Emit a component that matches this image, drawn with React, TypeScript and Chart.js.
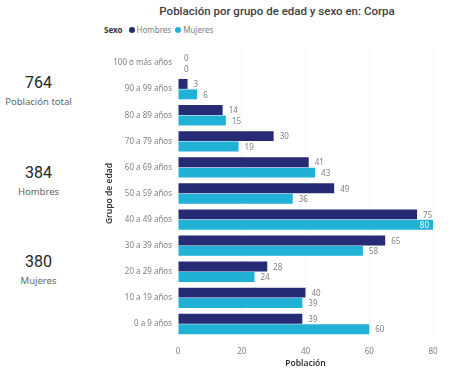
import React, { useEffect, useRef } from "react";
import { Chart, registerables } from "chart.js";

Chart.register(...registerables);

const categories = [
  "100 o más años",
  "90 a 99 años",
  "80 a 89 años",
  "70 a 79 años",
  "60 a 69 años",
  "50 a 59 años",
  "40 a 49 años",
  "30 a 39 años",
  "20 a 29 años",
  "10 a 19 años",
  "0 a 9 años",
];
const hombres = [0, 3, 14, 30, 41, 49, 75, 65, 28, 40, 39];
const mujeres = [0, 6, 15, 19, 43, 36, 80, 58, 24, 39, 60];
const xTicks = [0, 20, 40, 60, 80];
const kpis = [
  { value: "764", label: "Población total" },
  { value: "384", label: "Hombres" },
  { value: "380", label: "Mujeres" },
];

const DARK = "#252B74";
const LIGHT = "#22B1D6";
const FONT = "'Noto Sans', 'Open Sans', sans-serif";
const HEAD = "Roboto, 'Noto Sans', sans-serif";

const labelPlugin = {
  id: "valueLabels",
  afterDatasetsDraw(chart: any) {
    const ctx = chart.ctx;
    const area = chart.chartArea;
    ctx.save();
    ctx.font = `8px ${FONT}`;
    ctx.textBaseline = "middle";
    chart.data.datasets.forEach((ds: any, di: number) => {
      const meta = chart.getDatasetMeta(di);
      meta.data.forEach((bar: any, i: number) => {
        const txt = String(ds.data[i]);
        const w = ctx.measureText(txt).width;
        if (bar.x + 5 + w > area.right + 2) {
          ctx.fillStyle = "#ffffff";
          ctx.textAlign = "right";
          ctx.fillText(txt, bar.x - 4, bar.y + 1);
        } else {
          ctx.fillStyle = "#808080";
          ctx.textAlign = "left";
          ctx.fillText(txt, bar.x + 6, bar.y + 1);
        }
      });
    });
    ctx.restore();
  },
};

export default function App() {
  const ref = useRef<HTMLCanvasElement>(null);
  useEffect(() => {
    document.body.style.margin = "0";
    const chart = new Chart(ref.current!, {
      type: "bar",
      data: {
        labels: categories,
        datasets: [
          { label: "Hombres", data: hombres, backgroundColor: DARK, categoryPercentage: 0.8, barPercentage: 0.95 },
          { label: "Mujeres", data: mujeres, backgroundColor: LIGHT, categoryPercentage: 0.8, barPercentage: 0.95 },
        ],
      },
      options: {
        indexAxis: "y",
        animation: false,
        responsive: false,
        maintainAspectRatio: false,
        layout: { padding: { top: 50, right: 41, bottom: 7, left: 9 } },
        plugins: { legend: { display: false }, title: { display: false }, tooltip: { enabled: false } },
        scales: {
          x: {
            min: 0,
            max: 80,
            afterBuildTicks: (s: any) => {
              s.ticks = xTicks.map((v) => ({ value: v }));
            },
            afterFit: (s: any) => {
              s.height = 32;
            },
            border: { display: false },
            grid: {
              color: (c: any) => (c.tick && c.tick.value === 0 ? "rgba(0,0,0,0)" : "#e6e6e6"),
              drawTicks: false,
            },
            ticks: { color: "#808080", font: { family: FONT, size: 8 }, padding: 10 },
            title: { display: true, text: "Población", color: "#333333", font: { family: FONT, size: 8.5, weight: "600" }, padding: { top: 0, bottom: 0 } },
          },
          y: {
            afterFit: (s: any) => {
              s.width = 74;
            },
            border: { display: false },
            grid: { display: false, drawTicks: false },
            ticks: { color: "#808080", font: { family: FONT, size: 8 }, padding: 6 },
            title: { display: true, text: "Grupo de edad", color: "#333333", font: { family: FONT, size: 8.5, weight: "600" }, padding: 0 },
          },
        },
      } as any,
      plugins: [labelPlugin],
    });
    (chart.options.scales as any).x.border = { display: false, dash: [1, 2] };
    (chart.options.scales as any).x.grid.borderDash = [1, 2];
    chart.update();
    return () => chart.destroy();
  }, []);

  const kpiTops = [72, 162, 251];
  return (
    <div style={{ position: "relative", width: 474, height: 376, background: "#fff", fontFamily: FONT, overflow: "hidden" }}>
      {kpis.map((k, i) => (
        <div key={k.label} style={{ position: "absolute", left: 0, width: 77, top: kpiTops[i], textAlign: "center" }}>
          <div style={{ fontFamily: HEAD, fontSize: 16, fontWeight: 400, color: "#252423", lineHeight: "21px" }}>{k.value}</div>
          <div style={{ fontSize: 9.5, color: "#666666", lineHeight: "18px" }}>{k.label}</div>
        </div>
      ))}
      <div style={{ position: "absolute", left: 100, width: 354, top: 4, textAlign: "center", fontFamily: HEAD, fontSize: 11.5, fontWeight: 500, color: "#404040" }}>
        Población por grupo de edad y sexo en: Corpa
      </div>
      <div style={{ position: "absolute", left: 104, top: 24, display: "flex", alignItems: "center", fontSize: 8, color: "#808080" }}>
        <span style={{ fontWeight: 700, color: "#333333", marginRight: 6 }}>Sexo</span>
        <span style={{ width: 6, height: 6, borderRadius: 3, background: DARK, display: "inline-block", marginRight: 2 }} />
        <span style={{ marginRight: 4 }}>Hombres</span>
        <span style={{ width: 6, height: 6, borderRadius: 3, background: LIGHT, display: "inline-block", marginRight: 2 }} />
        <span>Mujeres</span>
      </div>
      <canvas ref={ref} width={379} height={376} style={{ position: "absolute", left: 95, top: 0 }} />
    </div>
  );
}
